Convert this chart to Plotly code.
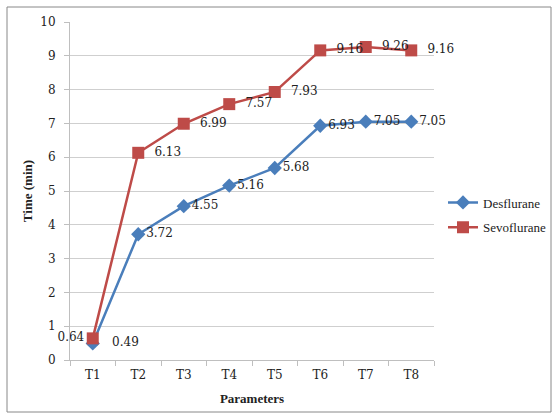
import plotly.graph_objects as go

categories = ["T1", "T2", "T3", "T4", "T5", "T6", "T7", "T8"]
desflurane = [0.49, 3.72, 4.55, 5.16, 5.68, 6.93, 7.05, 7.05]
sevoflurane = [0.64, 6.13, 6.99, 7.57, 7.93, 9.16, 9.26, 9.16]
hidden_series = [0.49, 3.72, 4.55, 5.16, 5.68, 6.93, 7.05, 7.05]
sevo_label_pos = ["middle left"] + ["middle right"] * 7

label_font = dict(family="DejaVu Serif", size=12, color="#222222")

fig = go.Figure()
fig.add_trace(go.Scatter(
    x=categories, y=hidden_series, mode="markers", showlegend=False,
    marker=dict(symbol="triangle-up", size=9, color="#9BBB59"),
    hoverinfo="skip", cliponaxis=False))
fig.add_trace(go.Scatter(
    x=categories, y=desflurane, mode="lines+markers+text", name="Desflurane",
    legendgroup="a",
    line=dict(color="#4A7EBB", width=2.5),
    marker=dict(symbol="diamond", size=11, color="#4A7EBB"),
    text=[f"   {desflurane[0]:.2f}"] + [f"{v:.2f}" for v in desflurane[1:]],
    textposition="middle right",
    textfont=label_font, cliponaxis=False))
fig.add_trace(go.Scatter(
    x=categories, y=sevoflurane, mode="lines+markers+text", name="Sevoflurane",
    legendgroup="b",
    line=dict(color="#BE4B48", width=2.5),
    marker=dict(symbol="square", size=12, color="#BE4B48"),
    text=[f"{sevoflurane[0]:.2f}"] + [f"  {v:.2f}" for v in sevoflurane[1:]],
    textposition=sevo_label_pos,
    textfont=label_font, cliponaxis=False))

fig.update_layout(
    width=557, height=418,
    margin=dict(l=70, r=123, t=22, b=58),
    paper_bgcolor="white", plot_bgcolor="white",
    font=dict(family="DejaVu Serif", size=12, color="#222222"),
    legend=dict(xref="container", yref="container", x=443/557, y=(418-215)/418,
                yanchor="middle", xanchor="left",
                font=dict(family="Liberation Serif", size=13, color="#222222"),
                bgcolor="rgba(0,0,0,0)", tracegroupgap=5, borderwidth=0),
    shapes=[dict(type="rect", xref="paper", yref="paper",
                 x0=-63/364, x1=(551-70)/364, y0=-(412-360)/338, y1=(360-7)/338,
                 line=dict(color="#888888", width=1))],
)
fig.update_xaxes(
    type="category", range=[-0.5, 7.5], showgrid=False, automargin=False,
    showline=True, linecolor="#BFBFBF", linewidth=1,
    ticks="outside", tickson="boundaries", ticklen=5, tickcolor="#BFBFBF",
    ticklabelstandoff=4,
    tickfont=dict(family="DejaVu Serif", size=12),
    title=dict(text="<b>Parameters</b>", font=dict(family="Liberation Serif", size=13), standoff=12))
fig.update_yaxes(
    range=[0, 10], dtick=1, showgrid=True, gridcolor="#CFCFCF", gridwidth=1,
    showline=True, linecolor="#BFBFBF", linewidth=1, zeroline=False, automargin=False,
    ticks="outside", ticklen=5, tickcolor="#BFBFBF", ticklabelstandoff=6,
    tickfont=dict(family="DejaVu Serif", size=12),
    title=dict(text="<b>Time (min)</b>", font=dict(family="Liberation Serif", size=13), standoff=4))

fig.write_html("out.html", config={"displayModeBar": False},
               post_script="document.body.style.margin='0';")
